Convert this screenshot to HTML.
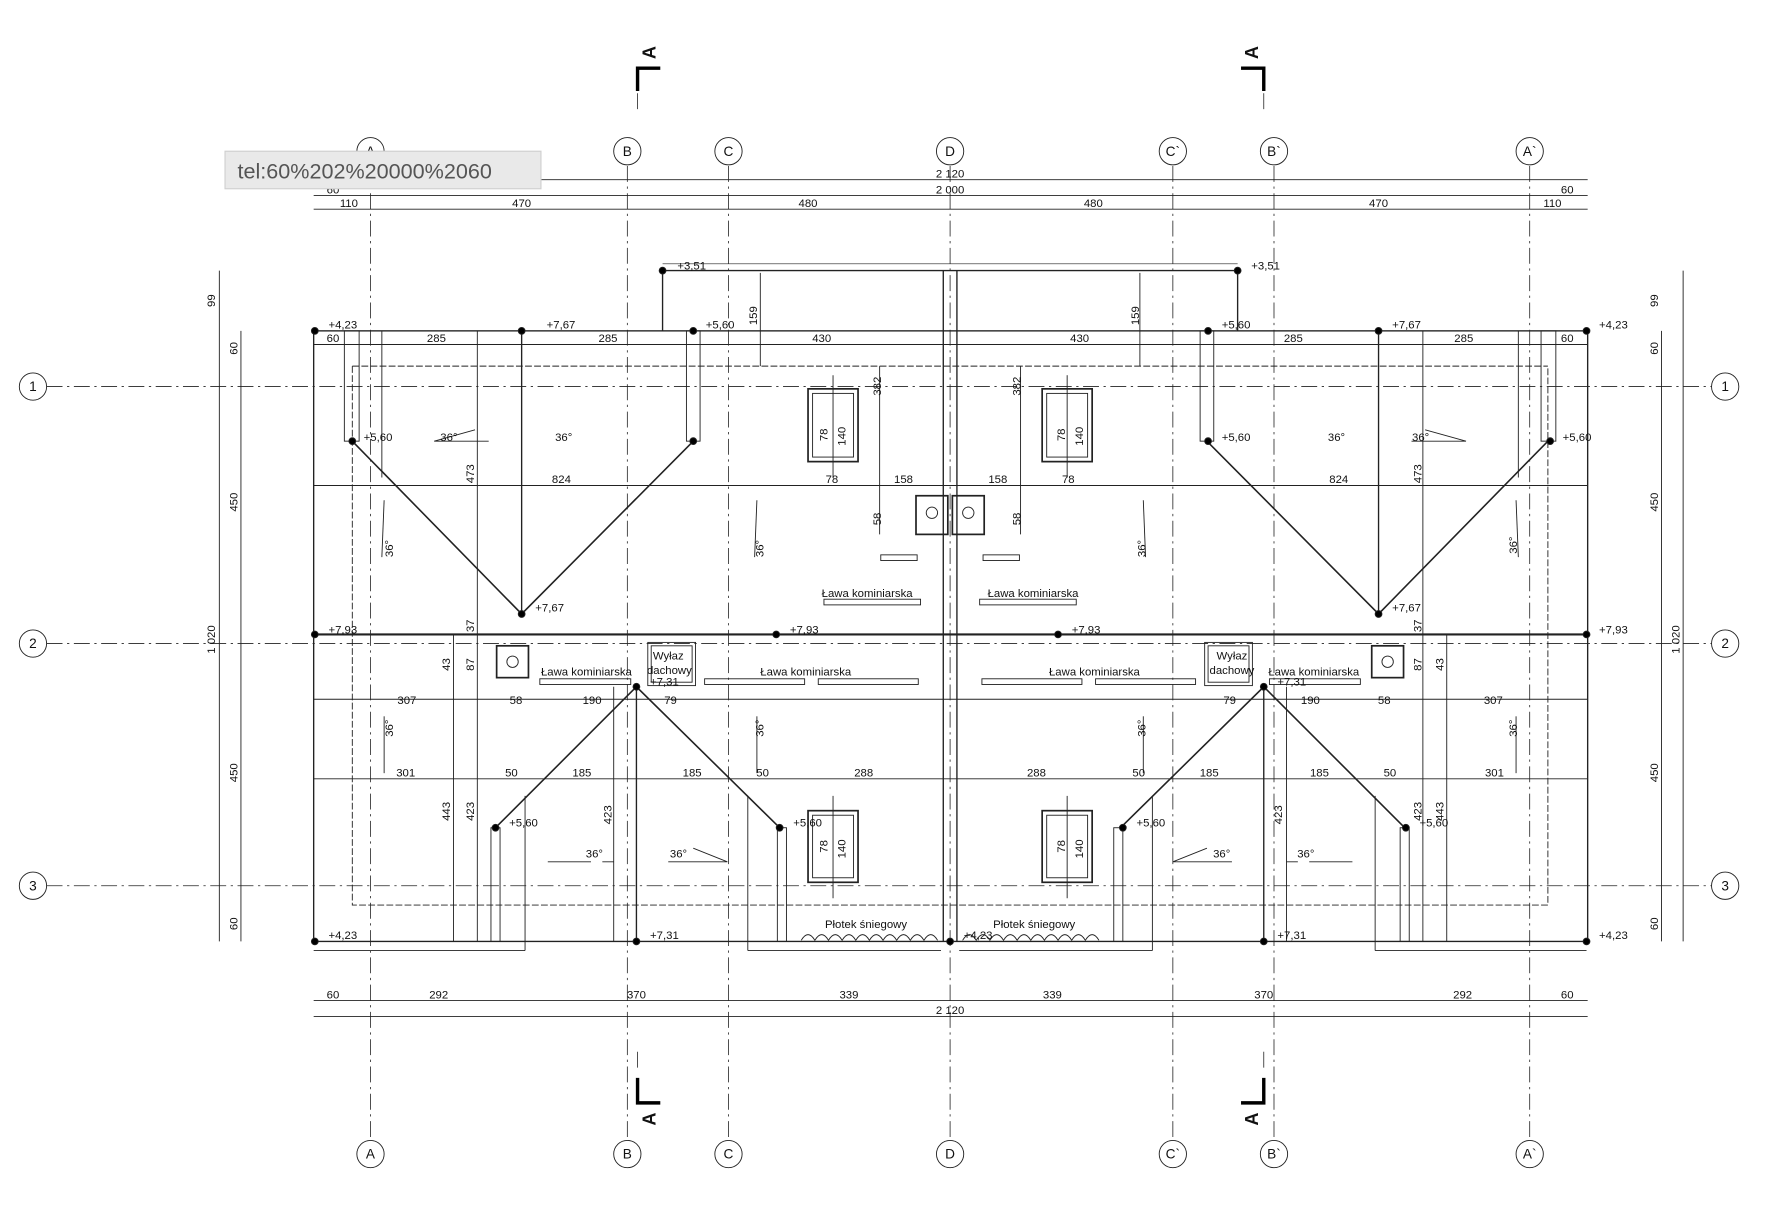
<!DOCTYPE html>
<html><head><meta charset="utf-8"><style>
html,body{margin:0;padding:0;background:#fff;}
svg{display:block;}
text{font-family:"Liberation Sans",sans-serif;fill:#111;}
</style></head><body>
<svg width="1782" height="1220" viewBox="0 0 1568 1073" preserveAspectRatio="none" xmlns="http://www.w3.org/2000/svg" font-size="10">
<rect width="1568" height="1073" fill="#fff"/>
<g stroke="#222" fill="none" stroke-width="0.8">
<g stroke-dasharray="14,4,2,4" stroke-width="0.7">
<line x1="326" y1="146" x2="326" y2="1002"/><line x1="552" y1="146" x2="552" y2="1002"/>
<line x1="641" y1="146" x2="641" y2="1002"/><line x1="836" y1="146" x2="836" y2="1002"/>
<line x1="1032" y1="146" x2="1032" y2="1002"/><line x1="1121" y1="146" x2="1121" y2="1002"/>
<line x1="1346" y1="146" x2="1346" y2="1002"/>
<line x1="41" y1="340" x2="1506" y2="340"/><line x1="41" y1="566" x2="1506" y2="566"/>
<line x1="41" y1="779" x2="1506" y2="779"/>
<line x1="561" y1="82" x2="561" y2="100"/><line x1="1112" y1="82" x2="1112" y2="100"/>
<line x1="561" y1="925" x2="561" y2="942"/><line x1="1112" y1="925" x2="1112" y2="942"/>
</g>
<circle cx="326" cy="133" r="12"/><circle cx="552" cy="133" r="12"/><circle cx="641" cy="133" r="12"/><circle cx="836" cy="133" r="12"/><circle cx="1032" cy="133" r="12"/><circle cx="1121" cy="133" r="12"/><circle cx="1346" cy="133" r="12"/>
<circle cx="326" cy="1015" r="12"/><circle cx="552" cy="1015" r="12"/><circle cx="641" cy="1015" r="12"/><circle cx="836" cy="1015" r="12"/><circle cx="1032" cy="1015" r="12"/><circle cx="1121" cy="1015" r="12"/><circle cx="1346" cy="1015" r="12"/>
<circle cx="29" cy="340" r="12"/><circle cx="29" cy="566" r="12"/><circle cx="29" cy="779" r="12"/>
<circle cx="1518" cy="340" r="12"/><circle cx="1518" cy="566" r="12"/><circle cx="1518" cy="779" r="12"/>
<path d="M561 80 V60 H581 M1112 80 V60 H1092 M561 948 V970 H581 M1112 948 V970 H1092" stroke="#000" stroke-width="3"/>
<line x1="276" y1="158" x2="1397" y2="158"/><line x1="276" y1="172" x2="1397" y2="172"/><line x1="276" y1="184" x2="1397" y2="184"/>
<line x1="276" y1="880" x2="1397" y2="880"/><line x1="276" y1="894" x2="1397" y2="894"/>
<line x1="193" y1="238" x2="193" y2="828"/><line x1="212" y1="291" x2="212" y2="828"/>
<line x1="1481" y1="238" x2="1481" y2="828"/><line x1="1462" y1="291" x2="1462" y2="828"/>
<rect x="276" y="291" width="1121" height="537" stroke-width="1.2"/>
<path d="M583 291 V238 H1089 V291" stroke-width="1.2"/>
<path d="M583 232 H1089" stroke-width="0.6"/>
<line x1="276" y1="558" x2="1397" y2="558" stroke-width="1.8"/>
<path d="M310 322 H1362 M310 322 V796 H1362 V322" stroke-dasharray="6,2"/>
<line x1="830" y1="238" x2="830" y2="828" stroke-width="1.2"/><line x1="842" y1="238" x2="842" y2="828" stroke-width="1.2"/>
<line x1="276" y1="303" x2="1397" y2="303"/><line x1="276" y1="427" x2="1397" y2="427"/>
<line x1="276" y1="615" x2="1397" y2="615"/><line x1="276" y1="685" x2="1397" y2="685"/>
<g id="half">
<path d="M310 388 L459 540 L610 388" stroke-width="1.4"/>
<line x1="459" y1="291" x2="459" y2="540" stroke-width="1.2"/>
<line x1="420" y1="291" x2="420" y2="828"/><line x1="399" y1="558" x2="399" y2="828"/>
<rect x="303" y="291" width="13" height="97"/><rect x="604" y="291" width="12" height="97"/>
<line x1="336" y1="291" x2="336" y2="420"/>
<path d="M436 728 L560 604 L686 728" stroke-width="1.4"/>
<line x1="560" y1="604" x2="560" y2="828" stroke-width="1.2"/>
<line x1="540" y1="604" x2="540" y2="828"/>
<rect x="432" y="728" width="8" height="100"/><rect x="684" y="728" width="8" height="100"/>
<line x1="462" y1="700" x2="462" y2="836"/><line x1="658" y1="700" x2="658" y2="836"/>
<path d="M276 836 H462 M658 836 H828"/>
<line x1="669" y1="240" x2="669" y2="322"/><line x1="774" y1="322" x2="774" y2="470"/>
<rect x="711" y="342" width="44" height="64" stroke-width="1.5"/><rect x="715" y="346" width="36" height="56"/>
<line x1="733" y1="330" x2="733" y2="420"/>
<rect x="711" y="713" width="44" height="63" stroke-width="1.5"/><rect x="715" y="717" width="36" height="55"/>
<line x1="733" y1="700" x2="733" y2="790"/>
<rect x="806" y="436" width="28" height="34" stroke-width="1.5"/><circle cx="820" cy="451" r="5"/>
<rect x="437" y="568" width="28" height="28" stroke-width="1.5"/><circle cx="451" cy="582" r="5"/>
<rect x="570" y="565" width="42" height="38"/><rect x="573" y="568" width="36" height="32"/>
<rect x="775" y="488" width="32" height="5"/>
<rect x="725" y="527" width="85" height="5"/>
<rect x="475" y="597" width="80" height="5"/><rect x="620" y="597" width="88" height="5"/><rect x="720" y="597" width="88" height="5"/>
<path d="M382 388 L418 378 M430 388 H382"/>
<path d="M338 440 L336 490"/><path d="M666 440 L664 490"/><path d="M338 630 V680"/><path d="M666 630 V680"/>
<path d="M482 758 H520 M540 758 L530 758"/><path d="M588 758 H640 L610 746"/>
<path d="M705 827 q6 -10 12 0 q6 -10 12 0 q6 -10 12 0 q6 -10 12 0 q6 -10 12 0 q6 -10 12 0 q6 -10 12 0 q6 -10 12 0 q6 -10 12 0 q6 -10 12 0"/>
</g>
<use href="#half" transform="translate(1672,0) scale(-1,1)"/>
<g fill="#000">
<circle cx="277" cy="291" r="3"/><circle cx="459" cy="291" r="3"/><circle cx="610" cy="291" r="3"/><circle cx="583" cy="238" r="3"/><circle cx="1089" cy="238" r="3"/>
<circle cx="1063" cy="291" r="3"/><circle cx="1213" cy="291" r="3"/><circle cx="1396" cy="291" r="3"/>
<circle cx="310" cy="388" r="3"/><circle cx="610" cy="388" r="3"/><circle cx="1063" cy="388" r="3"/><circle cx="1364" cy="388" r="3"/>
<circle cx="459" cy="540" r="3"/><circle cx="1213" cy="540" r="3"/>
<circle cx="277" cy="558" r="3"/><circle cx="683" cy="558" r="3"/><circle cx="931" cy="558" r="3"/><circle cx="1396" cy="558" r="3"/>
<circle cx="560" cy="604" r="3"/><circle cx="1112" cy="604" r="3"/>
<circle cx="436" cy="728" r="3"/><circle cx="686" cy="728" r="3"/><circle cx="988" cy="728" r="3"/><circle cx="1237" cy="728" r="3"/>
<circle cx="277" cy="828" r="3"/><circle cx="560" cy="828" r="3"/><circle cx="836" cy="828" r="3"/><circle cx="1112" cy="828" r="3"/><circle cx="1396" cy="828" r="3"/>
</g>
</g>
<g text-anchor="middle">
<g font-size="12">
<text x="326" y="137">A</text><text x="552" y="137">B</text><text x="641" y="137">C</text><text x="836" y="137">D</text><text x="1032" y="137">C`</text><text x="1121" y="137">B`</text><text x="1346" y="137">A`</text>
<text x="326" y="1019">A</text><text x="552" y="1019">B</text><text x="641" y="1019">C</text><text x="836" y="1019">D</text><text x="1032" y="1019">C`</text><text x="1121" y="1019">B`</text><text x="1346" y="1019">A`</text>
<text x="29" y="344">1</text><text x="29" y="570">2</text><text x="29" y="783">3</text>
<text x="1518" y="344">1</text><text x="1518" y="570">2</text><text x="1518" y="783">3</text>
</g>
<text x="836" y="156">2 120</text><text x="836" y="170">2 000</text><text x="293" y="170">60</text><text x="1379" y="170">60</text>
<text x="307" y="182">110</text><text x="459" y="182">470</text><text x="711" y="182">480</text><text x="962" y="182">480</text><text x="1213" y="182">470</text><text x="1366" y="182">110</text>
<text x="293" y="878">60</text><text x="386" y="878">292</text><text x="560" y="878">370</text><text x="747" y="878">339</text><text x="926" y="878">339</text><text x="1112" y="878">370</text><text x="1287" y="878">292</text><text x="1379" y="878">60</text><text x="836" y="892">2 120</text>
<text x="293" y="301">60</text><text x="384" y="301">285</text><text x="535" y="301">285</text><text x="723" y="301">430</text><text x="950" y="301">430</text><text x="1138" y="301">285</text><text x="1288" y="301">285</text><text x="1379" y="301">60</text>
<text x="494" y="425">824</text><text x="732" y="425">78</text><text x="795" y="425">158</text><text x="878" y="425">158</text><text x="940" y="425">78</text><text x="1178" y="425">824</text>
<text x="358" y="619">307</text><text x="454" y="619">58</text><text x="521" y="619">190</text><text x="590" y="619">79</text><text x="1082" y="619">79</text><text x="1153" y="619">190</text><text x="1218" y="619">58</text><text x="1314" y="619">307</text>
<text x="357" y="683">301</text><text x="450" y="683">50</text><text x="512" y="683">185</text><text x="609" y="683">185</text><text x="671" y="683">50</text><text x="760" y="683">288</text><text x="912" y="683">288</text><text x="1002" y="683">50</text><text x="1064" y="683">185</text><text x="1161" y="683">185</text><text x="1223" y="683">50</text><text x="1315" y="683">301</text>
<text x="395" y="388">36°</text><text x="496" y="388">36°</text><text x="1176" y="388">36°</text><text x="1250" y="388">36°</text>
<text x="523" y="754">36°</text><text x="597" y="754">36°</text><text x="1075" y="754">36°</text><text x="1149" y="754">36°</text>
<text x="763" y="525">Ława kominiarska</text><text x="909" y="525">Ława kominiarska</text>
<text x="516" y="594">Ława kominiarska</text><text x="709" y="594">Ława kominiarska</text><text x="963" y="594">Ława kominiarska</text><text x="1156" y="594">Ława kominiarska</text>
<text x="588" y="580">Wyłaz</text><text x="589" y="593">dachowy</text><text x="1084" y="580">Wyłaz</text><text x="1084" y="593">dachowy</text>
<text x="762" y="816">Płotek śniegowy</text><text x="910" y="816">Płotek śniegowy</text>
</g>
<g>
<text x="289" y="289">+4,23</text><text x="481" y="289">+7,67</text><text x="621" y="289">+5,60</text><text x="596" y="237">+3,51</text><text x="1101" y="237">+3,51</text>
<text x="1075" y="289">+5,60</text><text x="1225" y="289">+7,67</text><text x="1407" y="289">+4,23</text>
<text x="320" y="388">+5,60</text><text x="1075" y="388">+5,60</text><text x="1375" y="388">+5,60</text>
<text x="471" y="538">+7,67</text><text x="1225" y="538">+7,67</text>
<text x="289" y="557">+7,93</text><text x="695" y="557">+7,93</text><text x="943" y="557">+7,93</text><text x="1407" y="557">+7,93</text>
<text x="572" y="603">+7,31</text><text x="1124" y="603">+7,31</text>
<text x="448" y="727">+5,60</text><text x="698" y="727">+5,60</text><text x="1000" y="727">+5,60</text><text x="1249" y="727">+5,60</text>
<text x="289" y="826">+4,23</text><text x="572" y="826">+7,31</text><text x="848" y="826">+4,23</text><text x="1124" y="826">+7,31</text><text x="1407" y="826">+4,23</text>
</g>
<g>
<text transform="translate(189,270) rotate(-90)">99</text><text transform="translate(209,312) rotate(-90)">60</text>
<text transform="translate(209,450) rotate(-90)">450</text><text transform="translate(189,575) rotate(-90)">1 020</text>
<text transform="translate(209,688) rotate(-90)">450</text><text transform="translate(209,818) rotate(-90)">60</text>
<text transform="translate(1459,270) rotate(-90)">99</text><text transform="translate(1459,312) rotate(-90)">60</text>
<text transform="translate(1459,450) rotate(-90)">450</text><text transform="translate(1478,575) rotate(-90)">1 020</text>
<text transform="translate(1459,688) rotate(-90)">450</text><text transform="translate(1459,818) rotate(-90)">60</text>
<text transform="translate(666,286) rotate(-90)">159</text><text transform="translate(1002,286) rotate(-90)">159</text>
<text transform="translate(775,348) rotate(-90)">382</text><text transform="translate(898,348) rotate(-90)">382</text>
<text transform="translate(417,425) rotate(-90)">473</text><text transform="translate(1251,425) rotate(-90)">473</text>
<text transform="translate(728,388) rotate(-90)">78</text><text transform="translate(744,392) rotate(-90)">140</text>
<text transform="translate(937,388) rotate(-90)">78</text><text transform="translate(953,392) rotate(-90)">140</text>
<text transform="translate(728,750) rotate(-90)">78</text><text transform="translate(744,755) rotate(-90)">140</text>
<text transform="translate(937,750) rotate(-90)">78</text><text transform="translate(953,755) rotate(-90)">140</text>
<text transform="translate(775,462) rotate(-90)">58</text><text transform="translate(898,462) rotate(-90)">58</text>
<text transform="translate(417,556) rotate(-90)">37</text><text transform="translate(1251,556) rotate(-90)">37</text>
<text transform="translate(396,590) rotate(-90)">43</text><text transform="translate(417,590) rotate(-90)">87</text>
<text transform="translate(1270,590) rotate(-90)">43</text><text transform="translate(1251,590) rotate(-90)">87</text>
<text transform="translate(396,722) rotate(-90)">443</text><text transform="translate(417,722) rotate(-90)">423</text><text transform="translate(538,725) rotate(-90)">423</text>
<text transform="translate(1128,725) rotate(-90)">423</text><text transform="translate(1251,722) rotate(-90)">423</text><text transform="translate(1270,722) rotate(-90)">443</text>
<text transform="translate(346,490) rotate(-90)">36°</text><text transform="translate(672,490) rotate(-90)">36°</text><text transform="translate(1008,490) rotate(-90)">36°</text><text transform="translate(1335,487) rotate(-90)">36°</text>
<text transform="translate(346,648) rotate(-90)">36°</text><text transform="translate(672,648) rotate(-90)">36°</text><text transform="translate(1008,648) rotate(-90)">36°</text><text transform="translate(1335,648) rotate(-90)">36°</text>
<g font-size="16" font-weight="bold">
<text transform="translate(577,52) rotate(-90)">A</text><text transform="translate(1107,52) rotate(-90)">A</text>
<text transform="translate(577,990) rotate(-90)">A</text><text transform="translate(1107,990) rotate(-90)">A</text>
</g>
</g>
<rect x="198" y="133" width="278" height="33" fill="#e9e9e9" stroke="#cfcfcf"/>
<text x="209" y="157" font-size="19" style="fill:#555">tel:60%202%20000%2060</text>
</svg>
</body></html>
